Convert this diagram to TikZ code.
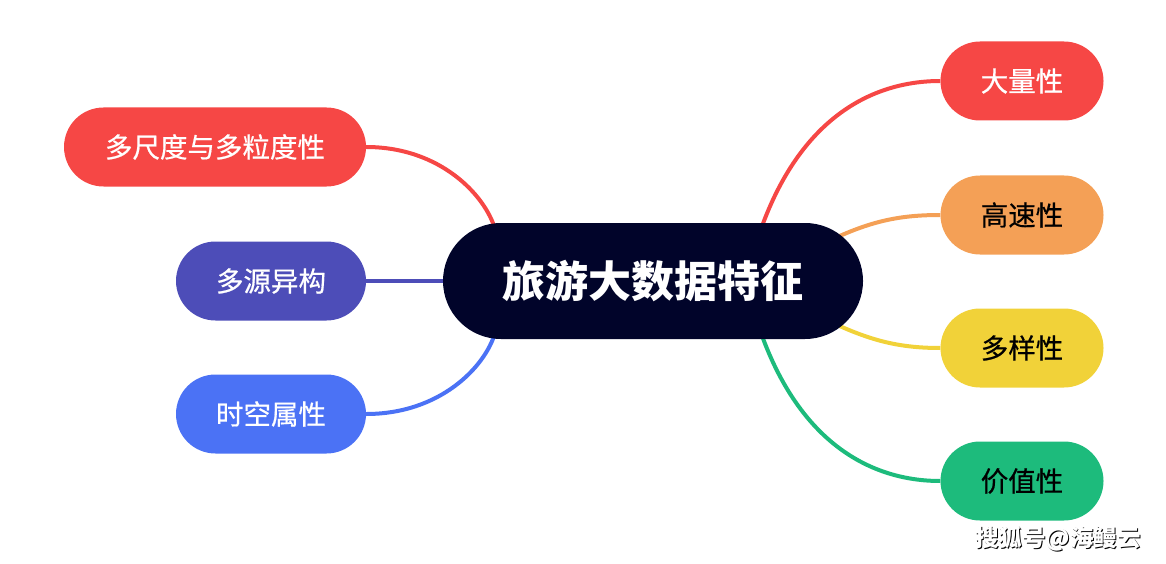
\documentclass[tikz,border=0pt]{standalone}
\usepackage{fontspec}
\setmainfont{Noto Sans CJK SC}
\newfontfamily\medfont[FakeBold=0.6]{Noto Sans CJK SC}
\usetikzlibrary{calc,backgrounds}
\definecolor{cnavy}{HTML}{01042A}
\definecolor{cred}{HTML}{F64745}
\definecolor{corange}{HTML}{F4A056}
\definecolor{cyellow}{HTML}{F1D239}
\definecolor{cgreen}{HTML}{1DBB7C}
\definecolor{cpurple}{HTML}{4D4DB8}
\definecolor{cblue}{HTML}{4B72F5}
\tikzset{
  pill/.style={rectangle, rounded corners=39.5pt, minimum height=79pt, inner sep=0pt, font=\medfont\fontsize{27.5}{27.5}\selectfont},
  link/.style={line width=4pt}
}
\begin{document}
\begin{tikzpicture}[x=1pt,y=-1pt]
\useasboundingbox (0,0) rectangle (1166,564);
\node[rectangle, rounded corners=58pt, minimum width=420pt, minimum height=116pt, inner sep=0pt, fill=cnavy, text=white, font=\fontsize{43}{43}\selectfont\bfseries] (c) at (653,281) {旅游大数据特征};
\node[pill, minimum width=163pt, fill=cred, text=white] (r1) at (1022,81) {大量性};
\node[pill, minimum width=163pt, fill=corange, text=black] (r2) at (1022,215) {高速性};
\node[pill, minimum width=163pt, fill=cyellow, text=black] (r3) at (1022,348) {多样性};
\node[pill, minimum width=163pt, fill=cgreen, text=black] (r4) at (1022,481) {价值性};
\node[pill, minimum width=302pt, fill=cred, text=white] (l1) at (215,147) {多尺度与多粒度性};
\node[pill, minimum width=190pt, fill=cpurple, text=white] (l2) at (271,281) {多源异构};
\node[pill, minimum width=190pt, fill=cblue, text=white] (l3) at (271,414) {时空属性};
\begin{scope}[on background layer]
\draw[link, cred] ($(c.center)+(108,-52)$) .. controls (800,120) and (870,81) .. (r1.west);
\draw[link, corange] ($(c.center)+(180,-42)$) .. controls (872,221) and (900,215) .. (r2.west);
\draw[link, cyellow] ($(c.center)+(180,42)$) .. controls (872,341) and (900,348) .. (r3.west);
\draw[link, cgreen] ($(c.center)+(108,52)$) .. controls (800,442) and (870,481) .. (r4.west);
\draw[link, cred] ($(c.center)+(-158,-52)$) .. controls (485,195) and (440,147) .. (l1.east);
\draw[link, cpurple] (c.west) -- (l2.east);
\draw[link, cblue] ($(c.center)+(-158,52)$) .. controls (485,367) and (440,414) .. (l3.east);
\end{scope}
\node[text=black, font=\fontsize{23.5}{23.5}\selectfont\bfseries] (wms) at (1059,540) {搜狐号@海鳗云};
\node[text=white, font=\fontsize{23.5}{23.5}\selectfont\bfseries] (wm) at (1058,539) {搜狐号@海鳗云};
\end{tikzpicture}
\end{document}
